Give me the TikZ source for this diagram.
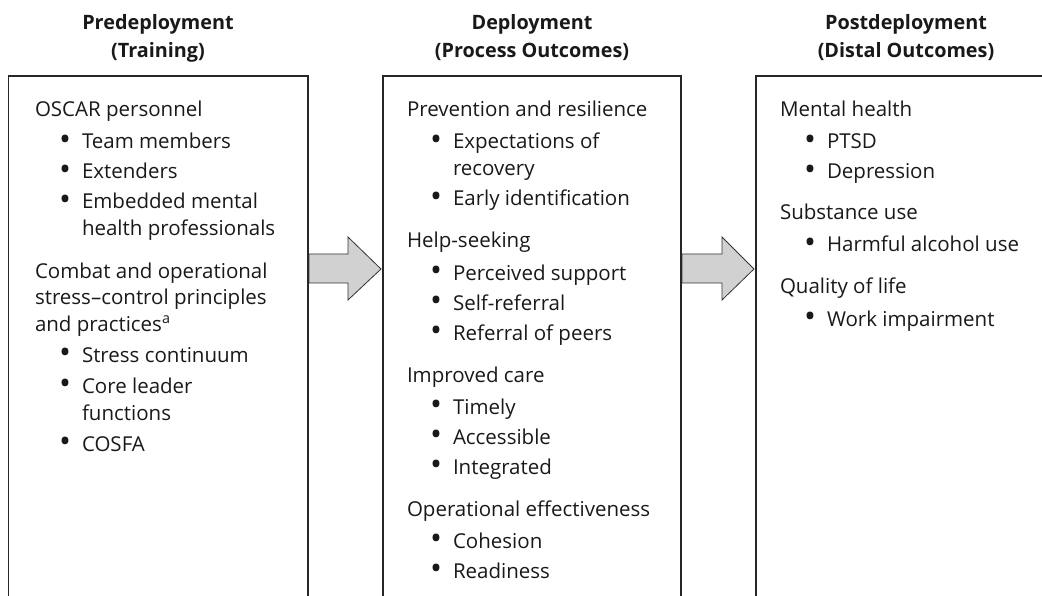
\documentclass[tikz,border=0pt]{standalone}
\usepackage{fontspec}
\setmainfont{Open Sans}
\begin{document}
\begin{tikzpicture}[x=1pt,y=-1pt,
  txt/.style={anchor=base west,inner sep=0pt,outer sep=0pt,font=\fontsize{20.5}{22}\selectfont,text=black!90},
  hd/.style={anchor=base,inner sep=0pt,font=\fontsize{19.8}{22}\selectfont\bfseries,text=black!90},
  boxline/.style={draw=black!85,line width=1.3pt},
  bigarrow/.style={draw=black!80,line width=0.8pt,fill=black!18,line join=miter}]
\useasboundingbox (0,0) rectangle (1042,596);
\clip (0,0) rectangle (1042,596);
% headings
\node[hd] (h1a) at (158,30) {Predeployment};
\node[hd] (h1b) at (158,58) {(Training)};
\node[hd] (h2a) at (532,30) {Deployment};
\node[hd] (h2b) at (532,58) {(Process Outcomes)};
\node[hd] (h3a) at (906,30) {Postdeployment};
\node[hd] (h3b) at (906,58) {(Distal Outcomes)};
% boxes
\draw[boxline] (8.5,610) -- (8.5,76) -- (308,76) -- (308,610);
\draw[boxline] (383,610) -- (383,76) -- (681,76) -- (681,610);
\draw[boxline] (756,610) -- (756,76) -- (1060,76);
% arrows
\draw[bigarrow] (309,254) -- (348,254) -- (348,237) -- (381,269) -- (348,300) -- (348,283) -- (309,283) -- cycle;
\draw[bigarrow] (682,254) -- (722,254) -- (722,237) -- (754,269) -- (722,300) -- (722,283) -- (682,283) -- cycle;
\newcommand\bu{\llap{\raisebox{-1.6pt}{\scalebox{1.55}{•}}\hspace{11pt}}}
% left box
\node[txt] (l1) at (35,117) {OSCAR personnel};
\node[txt] (l2) at (82,149) {\bu Team members};
\node[txt] (l3) at (82,179) {\bu Extenders};
\node[txt] (l4) at (82,209) {\bu Embedded mental};
\node[txt] (l5) at (82,236) {health professionals};
\node[txt] (l6) at (35,279) {Combat and operational};
\node[txt] (l7) at (35,305) {stress–control principles};
\node[txt] (l8) at (35,331) {and practices\textsuperscript{a}};
\node[txt] (l9) at (82,362) {\bu Stress continuum};
\node[txt] (l10) at (82,393) {\bu Core leader};
\node[txt] (l11) at (82,420) {functions};
\node[txt] (l12) at (82,451) {\bu COSFA};
% middle box
\node[txt] (m1) at (407,117) {Prevention and resilience};
\node[txt] (m2) at (453,149) {\bu Expectations of};
\node[txt] (m3) at (453,176) {recovery};
\node[txt] (m4) at (453,206) {\bu Early identification};
\node[txt] (m5) at (407,248) {Help-seeking};
\node[txt] (m6) at (453,280) {\bu Perceived support};
\node[txt] (m7) at (453,310) {\bu Self-referral};
\node[txt] (m8) at (453,340) {\bu Referral of peers};
\node[txt] (m9) at (407,382) {Improved care};
\node[txt] (m10) at (453,414) {\bu Timely};
\node[txt] (m11) at (453,444) {\bu Accessible};
\node[txt] (m12) at (453,474) {\bu Integrated};
\node[txt] (m13) at (407,516) {Operational effectiveness};
\node[txt] (m14) at (453,548) {\bu Cohesion};
\node[txt] (m15) at (453,578) {\bu Readiness};
% right box
\node[txt] (r1) at (780,117) {Mental health};
\node[txt] (r2) at (827,149) {\bu PTSD};
\node[txt] (r3) at (827,179) {\bu Depression};
\node[txt] (r4) at (780,220) {Substance use};
\node[txt] (r5) at (827,252) {\bu Harmful alcohol use};
\node[txt] (r6) at (780,294) {Quality of life};
\node[txt] (r7) at (827,326) {\bu Work impairment};
\end{tikzpicture}
\end{document}
